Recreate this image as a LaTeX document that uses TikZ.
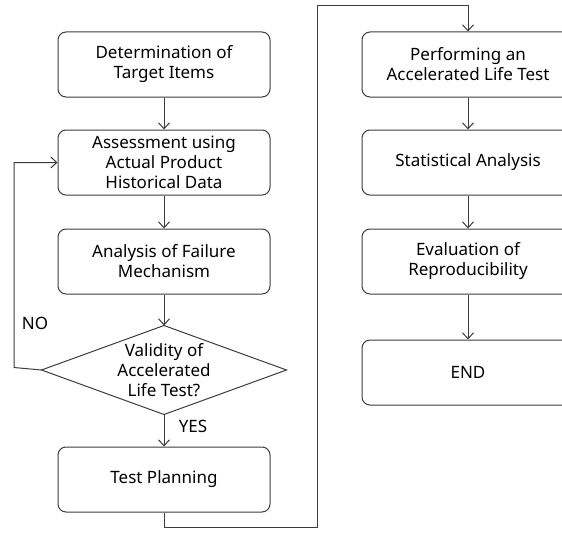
\documentclass[tikz,border=0pt]{standalone}
\usepackage{fontspec}
\setmainfont{Noto Sans}
\usetikzlibrary{positioning,shapes.geometric,arrows.meta}

\definecolor{lineclr}{HTML}{3C3C3C}

\tikzset{
	box/.style={draw=lineclr, line width=1pt, rounded corners=8pt,
		minimum width=212pt, minimum height=65pt, align=center,
		font=\fontsize{17}{20}\selectfont},
	decide/.style={draw=lineclr, line width=1pt, diamond, aspect=2.75,
		inner sep=0pt, outer sep=0pt, minimum width=245pt, minimum height=89pt},
	flow/.style={draw=lineclr, line width=1pt,
		-{Straight Barb[length=6pt,width=11pt,line width=1pt]}},
	tag/.style={font=\fontsize{17}{20}\selectfont, align=center}
}

\begin{document}
\begin{tikzpicture}[x=1pt,y=-1pt]
	\useasboundingbox (0,0) rectangle (562,535);
	% left column
	\node[box] (target) at (164,64.5) {Determination of\\Target Items};
	\node[box, below=32pt of target] (assess) {Assessment using\\Actual Product\\Historical Data};
	\node[box, below=33pt of assess] (failure) {Analysis of Failure\\Mechanism};
	\node[decide, below=31pt of failure] (valid) {};
	\node[tag] (validtext) at (valid) {Validity of\\Accelerated\\Life Test?};
	\node[box, below=32pt of valid] (plan) {Test Planning};
	% right column
	\node[box] (perform) at (468,64.5) {Performing an\\Accelerated Life Test};
	\node[box, below=32pt of perform] (stats) {Statistical Analysis};
	\node[box, below=33pt of stats] (repro) {Evaluation of\\Reproducibility};
	\node[box, below=45pt of repro] (finish) {END};
	%
	\node[tag] (no) at (35,323) {NO};
	\node[tag] (yes) at (193,426) {YES};
	\coordinate (back) at (14,367.5);
	\coordinate (low) at (317,527);
	\coordinate (high) at (317,6);
	%
	\draw[flow] (target) -- (assess);
	\draw[flow] (assess) -- (failure);
	\draw[flow] (failure) -- (valid);
	\draw[flow] (valid) -- (plan);
	\draw[flow] (valid.west) -- (back) |- (assess.west);
	\draw[flow] (plan.south) |- (low) -- (high) -| (perform.north);
	\draw[flow] (perform) -- (stats);
	\draw[flow] (stats) -- (repro);
	\draw[flow] (repro) -- (finish);
\end{tikzpicture}
\end{document}
